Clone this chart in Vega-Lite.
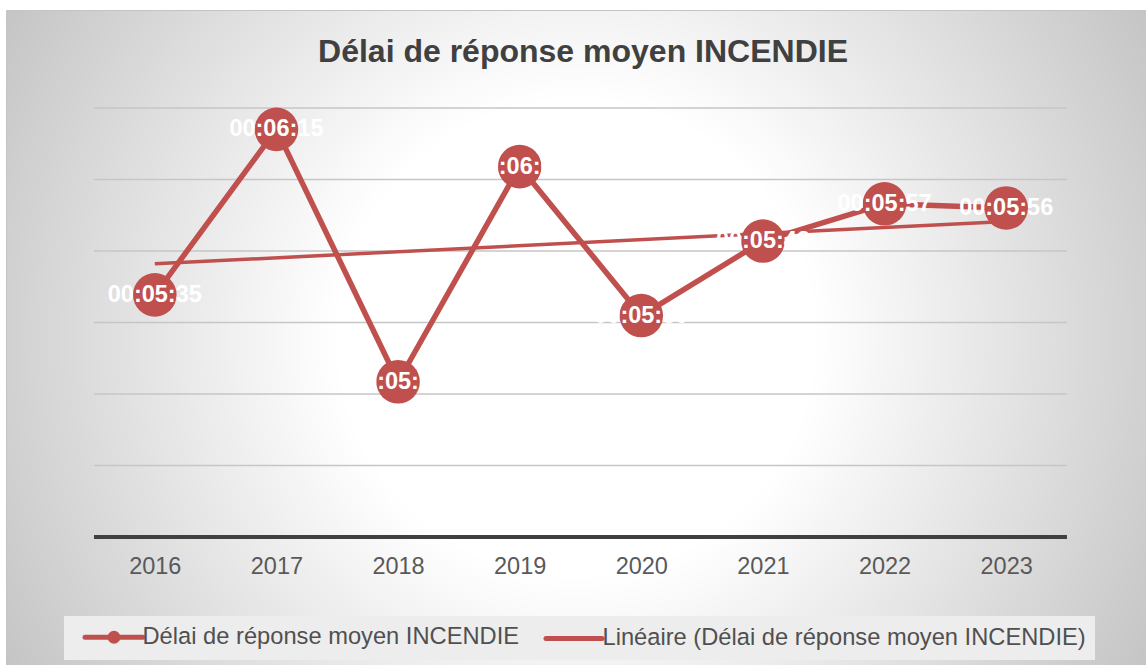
{
  "$schema": "https://vega.github.io/schema/vega-lite/v6.json",
  "width": 1140,
  "height": 655,
  "autosize": {"type": "none"},
  "padding": {"left": 6, "top": 10, "right": 0, "bottom": 0},
  "background": "#ffffff",
  "view": {
    "fill": {
      "gradient": "radial",
      "x1": 0.5, "y1": 0.5, "r1": 0,
      "x2": 0.5, "y2": 0.5, "r2": 0.58,
      "stops": [
        {"offset": 0, "color": "#ffffff"},
        {"offset": 0.36, "color": "#ffffff"},
        {"offset": 1, "color": "#c4c4c4"}
      ]
    },
    "stroke": "#c4c4c4",
    "strokeWidth": 1
  },
  "title": {
    "text": "Délai de réponse moyen INCENDIE",
    "font": "Liberation Sans",
    "fontSize": 32,
    "fontWeight": "bold",
    "color": "#404040",
    "anchor": "middle",
    "orient": "top",
    "baseline": "alphabetic",
    "offset": -84,
    "dx": 7
  },
  "config": {
    "axis": {"grid": false, "domain": false, "ticks": false, "tickSize": 0, "title": null},
    "axisX": {
      "labelFont": "Liberation Sans",
      "labelFontSize": 23.5,
      "labelColor": "#595959",
      "labelPadding": 0,
      "labelBaseline": "alphabetic",
      "labelFlush": false,
      "labelOverlap": false,
      "offset": -91.7
    }
  },
  "datasets": {
    "delais": [
      {"annee": 2016, "secondes": 335, "duree": "00:05:35", "serie": "Délai de réponse moyen INCENDIE"},
      {"annee": 2017, "secondes": 375, "duree": "00:06:15", "serie": "Délai de réponse moyen INCENDIE"},
      {"annee": 2018, "secondes": 314, "duree": "00:05:14", "serie": "Délai de réponse moyen INCENDIE"},
      {"annee": 2019, "secondes": 366, "duree": "00:06:06", "serie": "Délai de réponse moyen INCENDIE"},
      {"annee": 2020, "secondes": 330, "duree": "00:05:30", "serie": "Délai de réponse moyen INCENDIE"},
      {"annee": 2021, "secondes": 348, "duree": "00:05:48", "serie": "Délai de réponse moyen INCENDIE"},
      {"annee": 2022, "secondes": 357, "duree": "00:05:57", "serie": "Délai de réponse moyen INCENDIE"},
      {"annee": 2023, "secondes": 356, "duree": "00:05:56", "serie": "Délai de réponse moyen INCENDIE"}
    ],
    "grille": [
      {"y": 293.76}, {"y": 311.04}, {"y": 328.32}, {"y": 345.6}, {"y": 362.88}, {"y": 380.16}
    ],
    "axe": [
      {"y": 276.48}
    ]
  },
  "layer": [
    {
      "data": {"name": "grille"},
      "mark": {"type": "rule", "color": "#c6c6c6", "strokeWidth": 1.3},
      "encoding": {
        "x": {"datum": 2015.5, "type": "quantitative", "scale": {"domain": [2014.7766, 2024.1496], "nice": false, "zero": false}, "axis": {"values": [2016, 2017, 2018, 2019, 2020, 2021, 2022, 2023], "format": "d", "title": null}},
        "x2": {"datum": 2023.5},
        "y": {"field": "y", "type": "quantitative", "scale": {"domain": [245.545, 403.844], "nice": false, "zero": false}, "axis": null}
      }
    },
    {
      "data": {"name": "axe"},
      "mark": {"type": "rule", "color": "#404040", "strokeWidth": 4},
      "encoding": {
        "x": {"datum": 2015.5, "type": "quantitative", "scale": {"domain": [2014.7766, 2024.1496], "nice": false, "zero": false}, "axis": {"values": [2016, 2017, 2018, 2019, 2020, 2021, 2022, 2023], "format": "d", "title": null}},
        "x2": {"datum": 2023.5},
        "y": {"field": "y", "type": "quantitative", "scale": {"domain": [245.545, 403.844], "nice": false, "zero": false}, "axis": null}
      }
    },
    {
      "data": {"name": "delais"},
      "transform": [{"regression": "secondes", "on": "annee", "method": "linear"}],
      "mark": {"type": "line", "color": "#c0504d", "strokeWidth": 3.5},
      "encoding": {
        "x": {"field": "annee", "type": "quantitative", "scale": {"domain": [2014.7766, 2024.1496], "nice": false, "zero": false}, "axis": {"values": [2016, 2017, 2018, 2019, 2020, 2021, 2022, 2023], "format": "d", "title": null}},
        "y": {"field": "secondes", "type": "quantitative", "scale": {"domain": [245.545, 403.844], "nice": false, "zero": false}, "axis": null}
      }
    },
    {
      "data": {"name": "delais"},
      "mark": {"type": "line", "strokeWidth": 5.5, "strokeJoin": "round", "strokeCap": "round"},
      "encoding": {
        "x": {"field": "annee", "type": "quantitative", "scale": {"domain": [2014.7766, 2024.1496], "nice": false, "zero": false}, "axis": {"values": [2016, 2017, 2018, 2019, 2020, 2021, 2022, 2023], "format": "d", "title": null}},
        "y": {"field": "secondes", "type": "quantitative", "scale": {"domain": [245.545, 403.844], "nice": false, "zero": false}, "axis": null},
        "color": {
          "field": "serie",
          "type": "nominal",
          "scale": {
            "domain": ["Délai de réponse moyen INCENDIE", "Linéaire (Délai de réponse moyen INCENDIE)"],
            "range": ["#c0504d", "#c0504d"]
          },
          "legend": {
            "title": null,
            "orient": "none",
            "legendX": 58,
            "legendY": 606,
            "direction": "horizontal",
            "columns": 2,
            "padding": 8.5,
            "fillColor": "#ededed",
            "symbolSize": 400,
            "symbolOffset": 29,
            "symbolStrokeWidth": 5,
            "labelFont": "Liberation Sans",
            "labelFontSize": 23.7,
            "labelColor": "#505050",
            "labelOffset": 16,
            "labelLimit": 700,
            "columnPadding": 13,
            "encode": {
              "symbols": {
                "update": {
                  "shape": {"signal": "datum.index === 0 ? 'M-2.9,0L2.9,0M-0.4,0A0.4,0.4,0,1,1,0.4,0A0.4,0.4,0,1,1,-0.4,0Z' : 'M-2.8,0L2.8,0'"},
                  "fill": {"value": "#c0504d"},
                  "stroke": {"value": "#c0504d"},
                  "strokeWidth": {"value": 5},
                  "strokeCap": {"value": "round"},
                  "opacity": {"value": 1}
                }
              }
            }
          }
        }
      }
    },
    {
      "data": {"name": "delais"},
      "mark": {"type": "point", "shape": "circle", "filled": true, "size": 1900, "color": "#c0504d", "opacity": 1},
      "encoding": {
        "x": {"field": "annee", "type": "quantitative", "scale": {"domain": [2014.7766, 2024.1496], "nice": false, "zero": false}, "axis": {"values": [2016, 2017, 2018, 2019, 2020, 2021, 2022, 2023], "format": "d", "title": null}},
        "y": {"field": "secondes", "type": "quantitative", "scale": {"domain": [245.545, 403.844], "nice": false, "zero": false}, "axis": null}
      }
    },
    {
      "data": {"name": "delais"},
      "mark": {"type": "text", "font": "Liberation Sans", "fontSize": 23.5, "fontWeight": "bold", "color": "#ffffff", "align": "center", "baseline": "middle"},
      "encoding": {
        "x": {"field": "annee", "type": "quantitative", "scale": {"domain": [2014.7766, 2024.1496], "nice": false, "zero": false}, "axis": {"values": [2016, 2017, 2018, 2019, 2020, 2021, 2022, 2023], "format": "d", "title": null}},
        "y": {"field": "secondes", "type": "quantitative", "scale": {"domain": [245.545, 403.844], "nice": false, "zero": false}, "axis": null},
        "text": {"field": "duree"}
      }
    }
  ]
}
